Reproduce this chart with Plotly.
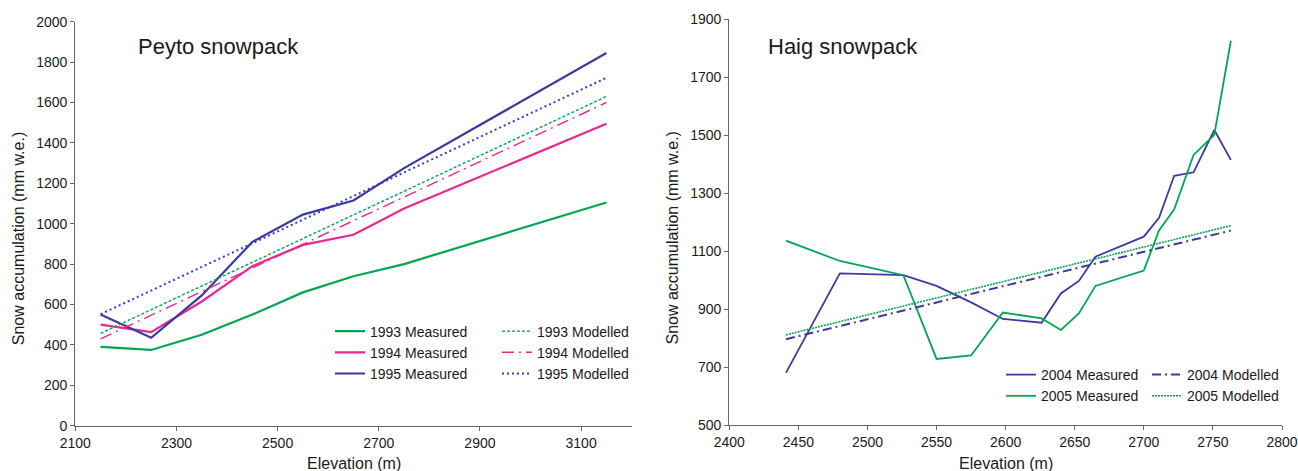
import plotly.graph_objects as go

W, H = 1298, 471

# ---------------- data: Peyto ----------------
peyto_elev = [2150, 2250, 2350, 2450, 2550, 2650, 2750, 3150]
meas_1993 = [390, 375, 450, 550, 660, 740, 800, 1105]
meas_1994 = [500, 463, 615, 790, 895, 945, 1075, 1495]
meas_1995 = [550, 435, 645, 910, 1045, 1115, 1275, 1845]
peyto_mod_elev = [2150, 3150]
mod_1993 = [457, 1630]
mod_1994 = [430, 1600]
mod_1995 = [552, 1722]

# ---------------- data: Haig ----------------
haig_elev = [2441, 2480, 2526, 2550, 2575, 2598, 2626, 2640, 2653, 2665,
             2700, 2711, 2722, 2736, 2751, 2763]
meas_2004 = [680, 1023, 1017, 980, 923, 866, 853, 954, 997, 1081,
             1150, 1215, 1360, 1372, 1518, 1415]
meas_2005 = [1136, 1066, 1017, 728, 740, 888, 868, 828, 885, 980,
             1033, 1171, 1244, 1432, 1501, 1826]
haig_mod_elev = [2441, 2763]
mod_2004 = [796, 1171]
mod_2005 = [811, 1188]

GREEN = "#00A651"
PINK = "#EC268F"
BLUE = "#3B3B9E"
BLUE_DOT = "#3A3AD0"
FONT = "Liberation Sans, Arial, sans-serif"
TXT = "#1a1a1a"

fig = go.Figure()

def add(x, y, name, color, width, dash, xa, ya, legend):
    fig.add_trace(go.Scatter(
        x=x, y=y, name=name, mode="lines",
        line=dict(color=color, width=width, dash=dash),
        xaxis=xa, yaxis=ya, legend=legend, showlegend=True,
    ))

# left chart
add(peyto_elev, meas_1993, "1993 Measured", GREEN, 2.2, "solid", "x", "y", "legend")
add(peyto_elev, meas_1994, "1994 Measured", PINK, 2.2, "solid", "x", "y", "legend")
add(peyto_elev, meas_1995, "1995 Measured", BLUE, 2.2, "solid", "x", "y", "legend")
add(peyto_mod_elev, mod_1993, "1993 Modelled", GREEN, 1.4, "3px,2px", "x", "y", "legend2")
add(peyto_mod_elev, mod_1994, "1994 Modelled", PINK, 1.4, "12px,5px,2px,5px", "x", "y", "legend2")
add(peyto_mod_elev, mod_1995, "1995 Modelled", BLUE_DOT, 2.0, "2px,3px", "x", "y", "legend2")

# right chart
add(haig_elev, meas_2004, "2004 Measured", BLUE, 1.8, "solid", "x2", "y2", "legend3")
add(haig_elev, meas_2005, "2005 Measured", GREEN, 1.8, "solid", "x2", "y2", "legend3")
add(haig_mod_elev, mod_2004, "2004 Modelled", BLUE, 2.0, "9px,4px,2px,4px", "x2", "y2", "legend4")
add(haig_mod_elev, mod_2005, "2005 Modelled", GREEN, 1.6, "2px,1px", "x2", "y2", "legend4")

def px_x(p):
    return p / W

def px_y(p):
    return 1 - p / H

axis_common = dict(
    showgrid=False, zeroline=False, showline=True, linecolor="#666666", linewidth=1.3,
    ticks="outside", ticklen=4, tickwidth=1, tickcolor="#666666",
    tickfont=dict(family=FONT, size=14, color=TXT), automargin=False,
)

def legend_common(size):
    return dict(
        font=dict(family=FONT, size=size, color=TXT), bgcolor="rgba(0,0,0,0)",
        xanchor="left", yanchor="top", tracegroupgap=0, borderwidth=0,
    )

fig.update_layout(
    width=W, height=H,
    margin=dict(l=0, r=0, t=0, b=0),
    paper_bgcolor="white", plot_bgcolor="white",
    font=dict(family=FONT, color=TXT),
    xaxis=dict(axis_common, domain=[px_x(75.3), px_x(631.7)], range=[2100, 3200],
               tick0=2100, dtick=200, anchor="y"),
    yaxis=dict(axis_common, domain=[px_y(425.7), px_y(21.7)], range=[0, 2000],
               tick0=0, dtick=200, anchor="x"),
    xaxis2=dict(axis_common, domain=[px_x(729.3), px_x(1282)], range=[2400, 2800],
                tick0=2400, dtick=50, anchor="y2"),
    yaxis2=dict(axis_common, domain=[px_y(425), px_y(19.3)], range=[500, 1900],
                tick0=500, dtick=200, anchor="x2"),
    legend=dict(legend_common(14), x=px_x(330), y=px_y(315.5)),
    legend2=dict(legend_common(14), x=px_x(497), y=px_y(315.5)),
    legend3=dict(legend_common(14), x=px_x(1001), y=px_y(359)),
    legend4=dict(legend_common(14), x=px_x(1147), y=px_y(359)),
    showlegend=True,
)

annotations = [
    dict(text="Peyto snowpack", x=px_x(136), y=px_y(47), xanchor="left", yanchor="middle",
         font=dict(family=FONT, size=22, color=TXT)),
    dict(text="Haig snowpack", x=px_x(766), y=px_y(47), xanchor="left", yanchor="middle",
         font=dict(family=FONT, size=22, color=TXT)),
    dict(text="Elevation (m)", x=px_x(353.5), y=px_y(463), xanchor="center", yanchor="middle",
         font=dict(family=FONT, size=16, color=TXT)),
    dict(text="Elevation (m)", x=px_x(1005.7), y=px_y(463), xanchor="center", yanchor="middle",
         font=dict(family=FONT, size=16, color=TXT)),
    dict(text="Snow accumulation (mm w.e.)", x=px_x(18.2), y=px_y(239), textangle=-90,
         xanchor="center", yanchor="middle", font=dict(family=FONT, size=16, color=TXT)),
    dict(text="Snow accumulation (mm w.e.)", x=px_x(671.5), y=px_y(238), textangle=-90,
         xanchor="center", yanchor="middle", font=dict(family=FONT, size=16, color=TXT)),
]
for a in annotations:
    a.update(xref="paper", yref="paper", showarrow=False)
fig.update_layout(annotations=annotations)

fig.write_html("out.html")
